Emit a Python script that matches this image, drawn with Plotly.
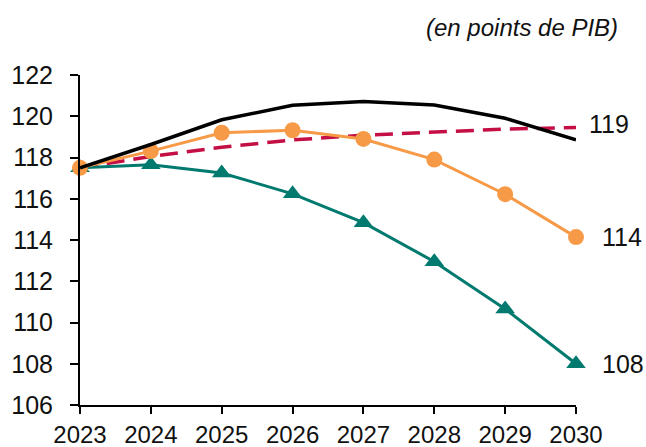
import plotly.graph_objects as go

# Debt trajectories, in points of GDP
years = [2023, 2024, 2025, 2026, 2027, 2028, 2029, 2030]
black_path = [117.5, 118.63, 119.83, 120.53, 120.72, 120.55, 119.9, 118.86]
red_path = [117.5, 118.05, 118.5, 118.85, 119.08, 119.25, 119.38, 119.45]
orange_path = [117.5, 118.31, 119.2, 119.32, 118.9, 117.9, 116.22, 114.14]
teal_path = [117.5, 117.65, 117.25, 116.24, 114.84, 112.95, 110.66, 108.0]

y_ticks = [106, 108, 110, 112, 114, 116, 118, 120, 122]
unit_label = "(en points de PIB)"

BLACK = "#000000"
RED = "#C40F45"
ORANGE = "#F79A47"
TEAL = "#007A6E"
FONT = "Liberation Sans, Arial, sans-serif"

fig = go.Figure()

fig.add_trace(go.Scatter(
    x=years, y=red_path, mode="lines",
    line=dict(color=RED, width=3.5, dash="18px,9px"),
    cliponaxis=False,
))
fig.add_trace(go.Scatter(
    x=years, y=teal_path, mode="lines+markers",
    line=dict(color=TEAL, width=3),
    marker=dict(symbol="triangle-up", size=17, color=TEAL),
    cliponaxis=False,
))
fig.add_trace(go.Scatter(
    x=years, y=orange_path, mode="lines+markers",
    line=dict(color=ORANGE, width=3),
    marker=dict(symbol="circle", size=16, color=ORANGE),
    cliponaxis=False,
))
fig.add_trace(go.Scatter(
    x=years, y=black_path, mode="lines",
    line=dict(color=BLACK, width=3.5),
    cliponaxis=False,
))

# End-of-period value labels
end_labels = [
    (red_path[-1], 11, 4),
    (orange_path[-1], 24, 0),
    (teal_path[-1], 24, 0),
]
for val, dx, dy in end_labels:
    fig.add_annotation(
        x=years[-1], y=val, xref="x", yref="y",
        text=f"{round(val)}", showarrow=False,
        xanchor="left", yanchor="middle", xshift=dx, yshift=dy,
        font=dict(family=FONT, size=25, color="#111111"),
    )

fig.add_annotation(
    x=1, y=1, xref="paper", yref="paper",
    text=f"<i>{unit_label}</i>", showarrow=False,
    xanchor="right", yanchor="middle", xshift=44, yshift=48,
    font=dict(family=FONT, size=24, color="#111111"),
)

fig.update_xaxes(
    range=[years[0], years[-1]],
    tickvals=years, ticktext=[str(y) for y in years],
    showline=True, linecolor=BLACK, linewidth=2,
    ticks="outside", ticklen=7, tickwidth=2, tickcolor=BLACK,
    showgrid=False, zeroline=False, automargin=False,
    ticklabelstandoff=0,
    tickfont=dict(family=FONT, size=24, color="#111111"),
)
fig.update_yaxes(
    range=[y_ticks[0], y_ticks[-1]],
    tickvals=y_ticks,
    showline=True, linecolor=BLACK, linewidth=2,
    ticks="outside", ticklen=8, tickwidth=2, tickcolor=BLACK,
    showgrid=False, zeroline=False, automargin=False,
    ticklabelstandoff=12,
    tickfont=dict(family=FONT, size=25, color="#111111"),
)

fig.update_layout(
    width=646, height=447,
    margin=dict(l=80, r=70, t=75, b=42),
    plot_bgcolor="white", paper_bgcolor="white",
    showlegend=False, hovermode=False,
)

fig.write_html("out.html")
